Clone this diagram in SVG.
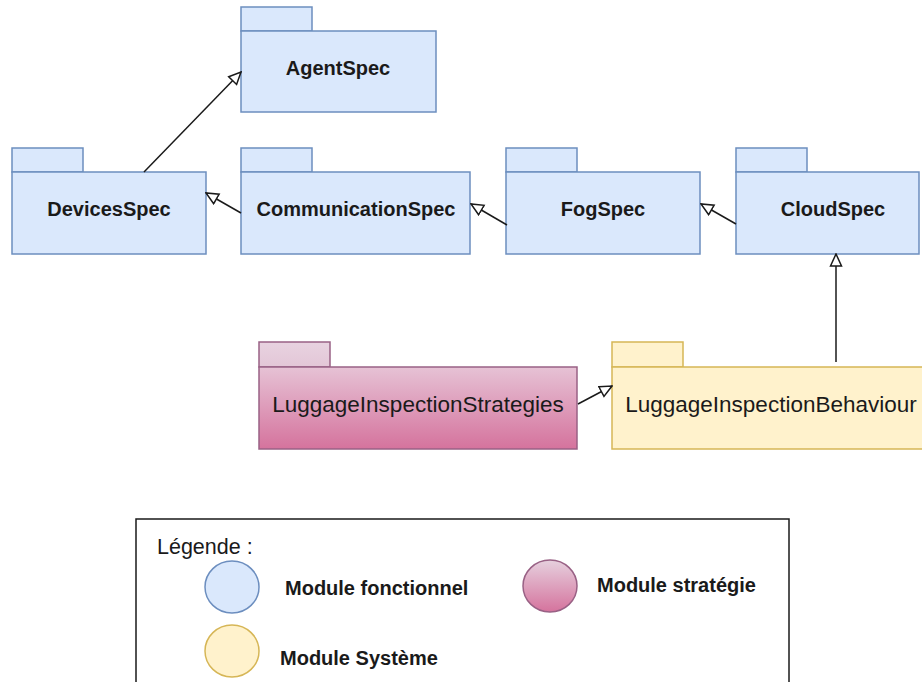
<svg xmlns="http://www.w3.org/2000/svg" width="922" height="682" viewBox="0 0 922 682">
<style>
.f{fill:#dae8fc;stroke:#6c8ebf;stroke-width:1.5}
.s{fill:url(#pg);stroke:#996185;stroke-width:1.5}
.st{fill:url(#pt);stroke:#996185;stroke-width:1.5}
.y{fill:#fff2cc;stroke:#d6b656;stroke-width:1.5}
.t{font-family:"Liberation Sans",Arial,sans-serif;font-size:20px;font-weight:bold;fill:#1a1a1a;text-anchor:middle}
.r{font-family:"Liberation Sans",Arial,sans-serif;font-size:22.5px;fill:#1a1a1a;text-anchor:middle}
.l{font-family:"Liberation Sans",Arial,sans-serif;font-size:20px;font-weight:bold;fill:#1a1a1a}
.c{stroke:#1a1a1a;stroke-width:1.5;fill:none;marker-end:url(#tri)}
</style>
<defs>
<linearGradient id="pg" x1="0" y1="0" x2="0" y2="1">
<stop offset="0" stop-color="#e6c2d5"/>
<stop offset="1" stop-color="#d5739d"/>
</linearGradient>
<linearGradient id="pt" x1="0" y1="0" x2="0" y2="1">
<stop offset="0" stop-color="#e8d3e0"/>
<stop offset="1" stop-color="#e3c6d7"/>
</linearGradient>
<linearGradient id="pe" x1="0" y1="0" x2="0" y2="1">
<stop offset="0" stop-color="#e6d0de"/>
<stop offset="1" stop-color="#d5739d"/>
</linearGradient>
<marker id="tri" viewBox="0 0 14 14" refX="13" refY="7" markerWidth="14" markerHeight="14" markerUnits="userSpaceOnUse" orient="auto">
<path d="M1,1.5 L13,7 L1,12.5 Z" fill="#fff" stroke="#1a1a1a" stroke-width="1.5"/>
</marker>
</defs>
<rect width="922" height="682" fill="#fff"/>

<g id="AgentSpec">
<rect class="f" x="241" y="7" width="71" height="24"/>
<rect class="f" x="241" y="31" width="195" height="81"/>
<text class="t" x="338" y="75">AgentSpec</text>
</g>
<g id="DevicesSpec">
<rect class="f" x="12" y="148" width="71" height="24"/>
<rect class="f" x="12" y="172" width="194" height="82"/>
<text class="t" x="109" y="216">DevicesSpec</text>
</g>
<g id="CommunicationSpec">
<rect class="f" x="241" y="148" width="71" height="24"/>
<rect class="f" x="241" y="172" width="229" height="82"/>
<text class="t" x="356" y="216">CommunicationSpec</text>
</g>
<g id="FogSpec">
<rect class="f" x="506" y="148" width="71" height="24"/>
<rect class="f" x="506" y="172" width="194" height="82"/>
<text class="t" x="603" y="216">FogSpec</text>
</g>
<g id="CloudSpec">
<rect class="f" x="736" y="148" width="71" height="24"/>
<rect class="f" x="736" y="172" width="183" height="82"/>
<text class="t" x="833" y="216">CloudSpec</text>
</g>
<g id="LuggageInspectionStrategies">
<rect class="st" x="259" y="342" width="71" height="25"/>
<rect class="s" x="259" y="367" width="318" height="82"/>
<text class="r" x="418" y="412">LuggageInspectionStrategies</text>
</g>
<g id="LuggageInspectionBehaviour">
<rect class="y" x="612" y="342" width="71" height="25"/>
<rect class="y" x="612" y="367" width="312" height="82"/>
<text class="r" x="771" y="412">LuggageInspectionBehaviour</text>
</g>

<g id="connectors">
<line class="c" x1="144" y1="172" x2="241" y2="72"/>
<line class="c" x1="241" y1="213" x2="206" y2="193"/>
<line class="c" x1="507" y1="225" x2="471" y2="204"/>
<line class="c" x1="736" y1="224" x2="701" y2="204"/>
<line class="c" x1="836" y1="362" x2="836" y2="254"/>
<line class="c" x1="578" y1="404" x2="612" y2="386"/>
</g>

<g id="legend">
<rect x="136" y="519" width="653" height="180" fill="#fff" stroke="#1a1a1a" stroke-width="1.5"/>
<text class="r" x="157" y="554" style="text-anchor:start;font-size:21.5px">Légende :</text>
<ellipse cx="232" cy="587" rx="27" ry="26" fill="#dae8fc" stroke="#6c8ebf" stroke-width="1.5"/>
<text class="l" x="285" y="595">Module fonctionnel</text>
<ellipse cx="550" cy="586" rx="27" ry="26" fill="url(#pe)" stroke="#996185" stroke-width="1.5"/>
<text class="l" x="597" y="592">Module stratégie</text>
<ellipse cx="232" cy="651" rx="27" ry="26" fill="#fff2cc" stroke="#d6b656" stroke-width="1.5"/>
<text class="l" x="280" y="665">Module Système</text>
</g>
</svg>
